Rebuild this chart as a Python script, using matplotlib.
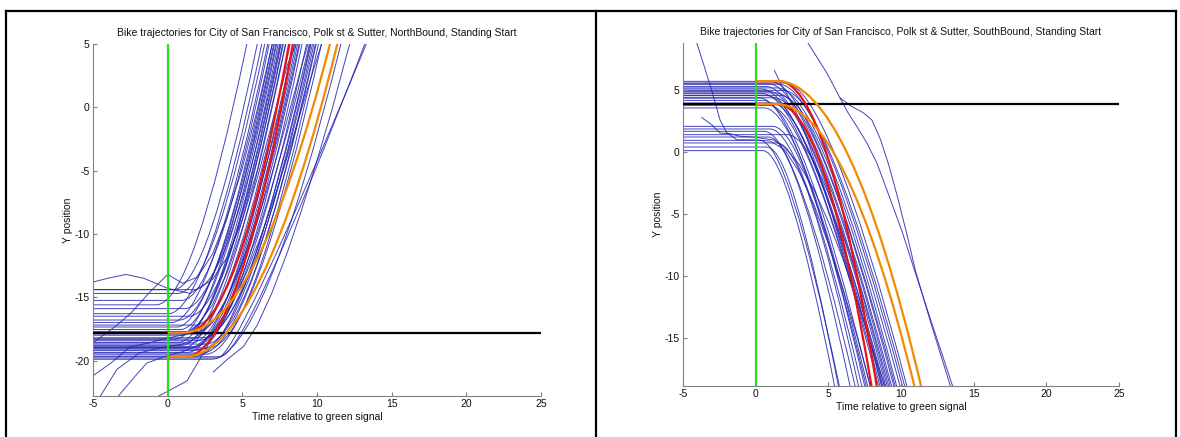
import matplotlib
matplotlib.use("Agg")
import matplotlib.pyplot as plt
from matplotlib.path import Path
from matplotlib.patches import PathPatch
from matplotlib.lines import Line2D

plt.rcParams['font.family'] = ['Liberation Sans', 'DejaVu Sans']

# ---------------- data: NorthBound (left) ----------------
nb_title = "Bike trajectories for City of San Francisco, Polk st & Sutter, NorthBound, Standing Start"
nb_xlim = (-5, 25)
nb_ylim = (-22.8, 5)
nb_yticks = [-20, -15, -10, -5, 0, 5]
nb_stopline = -17.8
nb_edge = 5.0            # trajectories leave the plot through the top edge
# each bike: held position, departure time, curve control time, time it crosses the edge
nb_y0 = [-15.6, -14.4, -16.3, -14.7, -17.0, -15.25, -17.35, -16.8, -18.3, -15.9,
         -17.55, -18.55, -14.4, -18.0, -17.85, -18.8, -16.5, -19.0, -18.3, -19.35,
         -17.2, -18.6, -19.0, -17.7, -18.9, -19.2, -18.4, -19.65, -18.2, -19.1,
         -17.9, -19.4, -18.7, -19.5, -19.0, -19.9, -19.7, -19.8]
nb_td = [-0.75, 0.4, 0.05, 0.7, 0.25, 0.95, 0.6, 0.8, 0.5, 1.15,
         0.85, 0.75, 1.8, 1.0, 1.1, 0.95, 1.45, 1.05, 1.4, 1.35,
         1.85, 1.6, 1.6, 1.95, 1.8, 1.85, 2.15, 1.9, 2.4, 2.25,
         2.55, 2.35, 2.55, 2.55, 2.75, 2.9, 3.5, 3.35]
nb_tc = [1.67, 2.64, 2.55, 3.02, 2.83, 3.29, 3.16, 3.32, 3.16, 3.59,
         3.43, 3.41, 4.08, 3.62, 3.7, 3.65, 3.97, 3.79, 4.12, 4.17,
         4.51, 4.4, 4.44, 4.69, 4.62, 4.71, 5.01, 4.96, 5.28, 5.23,
         5.45, 5.37, 5.51, 5.57, 5.77, 6.38, 5.2, 4.6]
nb_tend = [5.3, 6.0, 6.3, 6.5, 6.7, 6.8, 7.0, 7.1, 7.15, 7.25,
           7.3, 7.4, 7.5, 7.55, 7.6, 7.7, 7.75, 7.9, 8.2, 8.4,
           8.5, 8.6, 8.7, 8.8, 8.85, 9.0, 9.3, 9.55, 9.6, 9.7,
           9.8, 9.9, 9.95, 10.1, 10.3, 11.6, 13.2, 13.3]
# bikes that were moving while tracked (waypoints)
nb_wander_t = [
    [-5, -4, -2.8, -1.6, 0, 1.5, 3, 4, 5, 6, 7, 7.9],
    [-5, -3.5, -2.5, -1.2, 0, 1, 2, 3, 4, 5, 6, 7.0],
    [-5, -3.8, -2.5, -1.2, 0, 1, 2, 3, 4, 5, 6, 7, 8, 8.6],
    [-4.5, -3.4, -1.9, -0.5, 1, 2, 3, 4, 5, 6, 7, 8, 9, 9.4],
    [-3.3, -2.3, -1.4, 0, 1, 2, 3, 4, 5, 6, 7, 8, 9, 9.5],
    [-0.6, 0.05, 1.3, 2.4, 3.3, 4.3, 5.3, 6.3, 7.3, 8.3, 9.3, 10.3],
    [3.06, 4.0, 5.07, 6, 7, 8, 9, 10, 11, 12, 12.2],
]
nb_wander_y = [
    [-13.8, -13.5, -13.2, -13.5, -14.3, -14.7, -13.6, -11.8, -8.9, -5.0, 0.2, 5.0],
    [-18.6, -17.3, -16.3, -14.6, -13.2, -13.9, -13.4, -11.6, -8.6, -4.8, -0.2, 5.0],
    [-21.2, -20.2, -18.9, -18.6, -18.2, -18.0, -17.2, -15.6, -13.0, -9.6, -5.6, -1.2, 3.3, 5.0],
    [-22.8, -20.7, -19.4, -19.0, -18.7, -18.2, -17.0, -15.0, -12.3, -9.0, -5.2, -1.0, 3.4, 5.0],
    [-22.8, -21.4, -20.2, -19.6, -19.3, -18.8, -17.8, -16.0, -13.3, -10.0, -6.2, -2.0, 2.6, 5.0],
    [-22.8, -22.4, -21.6, -19.4, -17.5, -15.5, -13.0, -10.0, -6.6, -2.8, 1.2, 5.0],
    [-20.9, -19.9, -18.9, -17.2, -14.6, -11.5, -8.0, -4.2, -0.2, 4.2, 5.0],
]
# model curves (red = fast, orange = slow) starting from the two queue positions
nb_red_y0 = [-17.8, -19.7]
nb_red_td = [1.2, 1.17]
nb_red_tc = [4.67, 4.78]
nb_red_tend = [8.13, 8.38]
nb_org_y0 = [-17.8, -19.7]
nb_org_td = [1.0, 1.09]
nb_org_tc = [5.94, 6.23]
nb_org_tend = [10.87, 11.36]

# ---------------- data: SouthBound (right) ----------------
sb_title = "Bike trajectories for City of San Francisco, Polk st & Sutter, SouthBound, Standing Start"
sb_xlim = (-5, 25)
sb_ylim = (-18.9, 8.83)
sb_yticks = [-15, -10, -5, 0, 5]
sb_stopline = 3.92
sb_edge = -18.9          # trajectories leave the plot through the bottom edge
sb_y0 = [0.13, 0.42, 0.96, 1.23, 1.69, 0.75, 1.88, 2.09, 4.38, 3.58,
         4.19, 3.79, 4.73, 4.57, 3.98, 5.11, 4.92, 1.42, 5.32, 4.4,
         5.52, 4.8, 5.73, 4.6, 5.2, 5.5, 5.0, 5.6]
sb_td = [0.5, 0.8, 0.3, 0.9, 0.6, 1.5, 1.0, 1.2, 0.3, 0.6,
         0.5, 0.9, 0.5, 0.8, 1.1, 0.4, 0.9, 2.2, 0.7, 1.3,
         0.9, 1.4, 1.0, 1.7, 1.5, 1.6, 1.9, 2.0]
sb_tc = [2.23, 2.51, 2.21, 2.86, 2.78, 3.45, 3.2, 3.4, 2.86, 3.09,
         3.08, 3.54, 3.32, 3.55, 3.78, 3.36, 3.72, 4.6, 3.66, 4.08,
         3.86, 4.24, 4.01, 4.5, 4.45, 4.58, 4.82, 4.94]
sb_tend = [5.43, 5.69, 5.76, 6.49, 6.84, 7.07, 7.3, 7.5, 7.6, 7.7,
           7.87, 8.44, 8.55, 8.65, 8.75, 8.85, 8.95, 9.05, 9.15, 9.25,
           9.35, 9.5, 9.6, 9.7, 9.93, 10.1, 10.25, 10.4]
sb_wander_t = [
    [-4.05, -3.5, -3.0, -2.45, -2.0, -1.3, 0, 1, 2, 3, 4, 5, 6, 7, 7.9],
    [-3.7, -3.0, -2.45, -1.8, -1.1, 0, 1.2, 2, 3, 4, 5, 6, 7, 8, 8.7],
    [3.6, 4.9, 5.8, 6.3, 6.95, 7.65, 8.35, 9.2, 10.1, 11.0, 12.0, 13.55],
    [5.8, 6.6, 7.4, 8.0, 8.6, 9.2, 9.8, 10.4, 11.0, 12.0, 13.4],
    [1.3, 1.7, 2.2, 2.8, 3.5, 4.3, 5.2, 6.1, 7.0, 8.0, 8.9],
]
sb_wander_y = [
    [8.83, 6.8, 4.9, 2.6, 1.6, 1.0, 1.0, 0.9, 0.2, -1.6, -4.2, -7.4, -11.0, -15.0, -18.9],
    [2.8, 2.2, 1.55, 1.5, 1.3, 1.2, 1.0, 0.4, -1.0, -3.0, -5.6, -8.6, -12.0, -15.8, -18.9],
    [8.83, 6.4, 4.4, 3.3, 2.1, 0.75, -0.9, -3.6, -6.5, -9.8, -13.4, -18.9],
    [4.4, 3.7, 3.2, 2.6, 1.0, -1.2, -3.8, -6.6, -9.6, -13.6, -18.9],
    [6.6, 5.6, 4.6, 3.2, 1.2, -1.5, -4.8, -8.4, -12.0, -15.8, -18.9],
]
sb_red_y0 = [5.75, 3.9]
sb_red_td = [1.6, 1.5]
sb_red_tc = [4.97, 4.74]
sb_red_tend = [8.33, 7.97]
sb_org_y0 = [5.75, 3.9]
sb_org_td = [1.5, 1.42]
sb_org_tc = [6.44, 6.17]
sb_org_tend = [11.38, 10.92]

xticks = [-5, 0, 5, 10, 15, 20, 25]
xlabel = "Time relative to green signal"
ylabel = "Y position"

BLUE = '#2222b0'
GREEN = '#22e022'
RED = '#e81414'
ORANGE = '#f28a00'
FS = 7.5


def trajectory(ax, t_start, y0, td, tc, tend, yend, color, lw, z, alpha=1.0):
    verts = [(t_start, y0), (td, y0), (tc, y0), (tend, yend)]
    codes = [Path.MOVETO, Path.LINETO, Path.CURVE3, Path.CURVE3]
    ax.add_patch(PathPatch(Path(verts, codes), facecolor='none', edgecolor=color,
                           lw=lw, zorder=z, alpha=alpha, capstyle='butt'))


def panel(ax, title, xlim, ylim, yticks, stop, edge, y0, td, tc, tend, wt, wy,
          ry0, rtd, rtc, rtend, oy0, otd, otc, otend):
    for a, b, c, d in zip(y0, td, tc, tend):
        trajectory(ax, xlim[0], a, b, c, d, edge, BLUE, 0.7, 1, 0.85)
    for t, y in zip(wt, wy):
        ax.plot(t, y, color=BLUE, lw=0.7, alpha=0.85, zorder=1)
    ax.axvline(0, color=GREEN, lw=1.6, zorder=2)
    ax.axhline(stop, color='black', lw=1.6, zorder=3)
    for a, b, c, d in zip(ry0, rtd, rtc, rtend):
        trajectory(ax, 0, a, b, c, d, edge, RED, 1.6, 4)
    for a, b, c, d in zip(oy0, otd, otc, otend):
        trajectory(ax, 0, a, b, c, d, edge, ORANGE, 1.6, 5)
    ax.set_xlim(*xlim)
    ax.set_ylim(*ylim)
    ax.set_xticks(xticks)
    ax.set_yticks(yticks)
    ax.set_xticklabels([str(v) for v in xticks])
    ax.set_yticklabels([str(v) for v in yticks])
    for s in ('top', 'right'):
        ax.spines[s].set_visible(False)
    for s in ('left', 'bottom'):
        ax.spines[s].set_color('#808080')
        ax.spines[s].set_linewidth(0.8)
    ax.tick_params(direction='in', length=3, width=0.8, color='#808080',
                   labelsize=FS, pad=2.5, labelcolor='#111111')
    ax.set_title(title, fontsize=FS, pad=6, color='#111111')
    ax.set_xlabel(xlabel, fontsize=FS, labelpad=2, color='#111111')
    ax.set_ylabel(ylabel, fontsize=FS, labelpad=1.0, color='#111111')


fig = plt.figure(figsize=(11.8, 4.37), dpi=100)
W, H = 1180.0, 437.0
ax1 = fig.add_axes([93 / W, 1 - 396 / H, (541 - 93) / W, (396 - 44) / H])
ax2 = fig.add_axes([683 / W, 1 - 386 / H, (1119 - 683) / W, (386 - 43) / H])

panel(ax1, nb_title, nb_xlim, nb_ylim, nb_yticks, nb_stopline, nb_edge,
      nb_y0, nb_td, nb_tc, nb_tend, nb_wander_t, nb_wander_y,
      nb_red_y0, nb_red_td, nb_red_tc, nb_red_tend,
      nb_org_y0, nb_org_td, nb_org_tc, nb_org_tend)
panel(ax2, sb_title, sb_xlim, sb_ylim, sb_yticks, sb_stopline, sb_edge,
      sb_y0, sb_td, sb_tc, sb_tend, sb_wander_t, sb_wander_y,
      sb_red_y0, sb_red_td, sb_red_tc, sb_red_tend,
      sb_org_y0, sb_org_td, sb_org_tc, sb_org_tend)

# outer frame of the two-panel page
frame_top = 1 - 11 / H
for x in (6 / W, 596 / W, 1176 / W):
    fig.add_artist(Line2D([x, x], [0, frame_top], transform=fig.transFigure,
                          color='black', lw=1.6))
fig.add_artist(Line2D([6 / W, 1176 / W], [frame_top, frame_top],
                      transform=fig.transFigure, color='black', lw=1.6))

fig.savefig('out.png', dpi=100)
